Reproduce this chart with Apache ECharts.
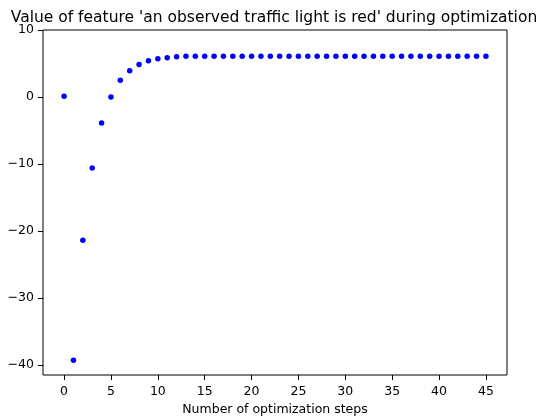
<!DOCTYPE html>
<html>
<head>
<meta charset="utf-8">
<script src="https://cdn.jsdelivr.net/npm/echarts@6/dist/echarts.min.js"></script>
<style>
  html, body { margin: 0; padding: 0; background: #fff; }
  #chart { width: 540px; height: 416px; }
</style>
</head>
<body>
<div id="chart"></div>
<script>
// optimization step index and feature value
var steps = [];
for (var i = 0; i <= 45; i++) steps.push(i);
var values = [0.1, -39.3, -21.4, -10.6, -3.9, 0.0, 2.5, 3.9, 4.85, 5.4, 5.7, 5.85, 6.0,
  6.1, 6.1, 6.1, 6.1, 6.1, 6.1, 6.1, 6.1, 6.1, 6.1, 6.1, 6.1, 6.1, 6.1, 6.1, 6.1, 6.1,
  6.1, 6.1, 6.1, 6.1, 6.1, 6.1, 6.1, 6.1, 6.1, 6.1, 6.1, 6.1, 6.1, 6.1, 6.1, 6.1];
var xTicks = [0, 5, 10, 15, 20, 25, 30, 35, 40, 45];
var yTicks = [-40, -30, -20, -10, 0, 10];

var points = [];
for (var k = 0; k < steps.length; k++) points.push([steps[k], values[k]]);

var font = 'DejaVu Sans';
var chart = echarts.init(document.getElementById('chart'));
chart.setOption({
  animation: false,
  title: {
    text: "Value of feature 'an observed traffic light is red' during optimization",
    left: 269,
    textAlign: 'center',
    top: 5,
    textStyle: { fontFamily: font, fontSize: 15.5, fontWeight: 'normal', color: '#000' }
  },
  grid: {
    left: 43, right: 33, top: 30, bottom: 41,
    outerBoundsMode: 'none', containLabel: false,
    show: true, borderColor: '#000', borderWidth: 1, backgroundColor: 'transparent'
  },
  xAxis: {
    type: 'value',
    min: -2.25, max: 47.25,
    name: 'Number of optimization steps',
    nameLocation: 'middle',
    nameGap: 27,
    nameTextStyle: { fontFamily: font, fontSize: 12.5, color: '#000' },
    axisLine: { show: false, onZero: false },
    splitLine: { show: false },
    axisTick: { show: true, length: 5, customValues: xTicks, lineStyle: { color: '#000' } },
    axisLabel: { customValues: xTicks, fontFamily: font, fontSize: 12.5, color: '#000', margin: 10 }
  },
  yAxis: {
    type: 'value',
    min: -41.5, max: 10,
    axisLine: { show: false, onZero: false },
    splitLine: { show: false },
    axisTick: { show: true, length: 5, customValues: yTicks, lineStyle: { color: '#000' } },
    axisLabel: {
      customValues: yTicks, fontFamily: font, fontSize: 12.5, color: '#000', margin: 9,
      formatter: function (v) { return String(v).replace('-', '\u2212'); }
    }
  },
  series: [{
    type: 'scatter',
    data: points,
    symbolSize: 5.5,
    itemStyle: { color: '#0000ff', opacity: 1 }
  }]
});
</script>
</body>
</html>
